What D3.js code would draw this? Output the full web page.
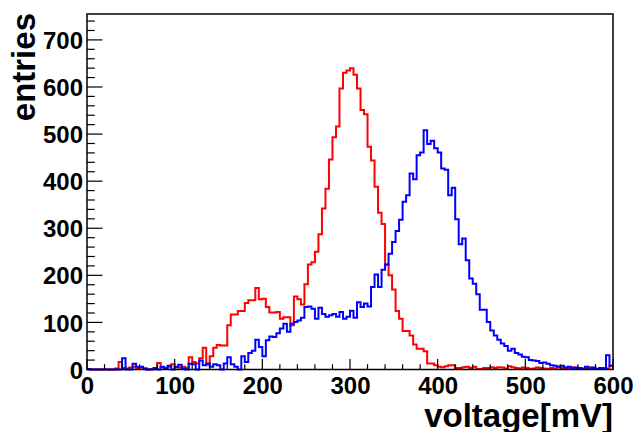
<!DOCTYPE html>
<html><head><meta charset="utf-8">
<script src="https://cdn.jsdelivr.net/npm/d3@7"></script>
<style>body{margin:0;background:#fff}svg{display:block}</style>
</head><body><svg id="c" width="634" height="432"></svg>
<script>
// ---- data ----
const xMin = 0, xMax = 600, binWidth = 4;
const redCounts = [
  0,0,0,0,0,0,0,0,2,16,
  3,2,4,6,3,5,2,0,1,3,
  14,5,3,6,11,6,4,6,3,26,
  16,13,24,46,11,28,46,52,51,51,
  94,117,117,124,124,141,147,147,173,149,
  150,133,121,121,122,108,111,111,94,155,
  149,138,181,223,228,250,287,342,384,446,
  493,516,597,630,635,640,626,597,551,542,
  473,444,388,333,309,223,200,170,124,108,
  82,82,72,53,44,44,39,13,13,9,
  6,5,7,9,9,3,3,5,6,3,
  6,1,1,3,3,5,3,5,4,2,
  7,5,3,2,4,3,1,2,4,3,
  2,1,3,2,5,3,1,2,4,1,
  2,1,2,4,3,1,2,3,2,8
];
const blueCounts = [
  1,0,0,0,0,0,0,0,0,0,
  24,0,0,12,6,6,2,0,0,3,
  0,6,2,8,0,5,10,2,0,12,
  11,0,19,9,13,6,11,9,0,13,
  26,11,6,0,28,16,35,40,63,48,
  28,62,70,69,77,87,97,80,97,101,
  104,110,133,134,129,108,131,118,112,115,
  118,112,122,108,112,125,110,143,133,140,
  134,175,202,175,212,223,246,271,294,318,
  356,370,416,404,455,461,508,479,486,470,
  461,427,424,370,386,319,266,278,232,193,
  182,160,127,127,101,83,72,63,55,50,
  40,44,35,32,27,26,20,19,18,14,
  15,12,9,8,6,8,4,6,3,4,
  3,2,6,2,4,1,3,2,30,8
];
const yMaxValue = 755;
const xTickValues = [0,100,200,300,400,500,600];
const yTickValues = [0,100,200,300,400,500,600,700];
const xTitle = "voltage[mV]";
const yTitle = "entries";

// ---- layout ----
const L = 87, R = 613, T = 14, B = 369.5;
const font = "'Liberation Sans', Arial, Helvetica, sans-serif";
const svg = d3.select("#c");
const x = d3.scaleLinear().domain([xMin, xMax]).range([L, R]);
const y = d3.scaleLinear().domain([0, yMaxValue]).range([B, T]);

const clip = svg.append("defs").append("clipPath").attr("id","fr")
  .append("rect").attr("x", L).attr("y", T).attr("width", R-L).attr("height", B-T+2);

function stepPoints(counts){
  const pts = [[xMin, 0]];
  counts.forEach((c,i)=>pts.push([xMin + i*binWidth, c]));
  pts.push([xMin + counts.length*binWidth, counts[counts.length-1]]);
  pts.push([xMin + counts.length*binWidth, 0]);
  return pts;
}
const line = d3.line().x(d=>x(d[0])).y(d=>y(d[1])).curve(d3.curveStepAfter);

const g = svg.append("g").attr("clip-path","url(#fr)");
g.append("path").attr("d", line(stepPoints(redCounts)))
  .attr("fill","none").attr("stroke","#ff0000").attr("stroke-width",2);
g.append("path").attr("d", line(stepPoints(blueCounts)))
  .attr("fill","none").attr("stroke","#0000ff").attr("stroke-width",2);

// frame
svg.append("rect").attr("x",L).attr("y",T).attr("width",R-L).attr("height",B-T)
  .attr("fill","none").attr("stroke","#000").attr("stroke-width",1.5);

// x axis ticks (inside, pointing up)
const xMinor = d3.range(xMin, xMax+0.1, 20);
const xAx = d3.axisBottom(x).tickValues(xTickValues).tickSize(0).tickFormat(d3.format("d"));
const xg = svg.append("g").attr("transform",`translate(0,${B})`).call(xAx);
xg.select(".domain").remove();
xg.selectAll("text").attr("font-family",font).attr("font-weight","bold").attr("font-size",24)
  .attr("fill","#000").attr("dy",null).attr("y",24.5);
svg.append("g").selectAll("line").data(xMinor).join("line")
  .attr("x1",d=>x(d)).attr("x2",d=>x(d)).attr("y1",B)
  .attr("y2",d=>B-(d%100===0?10.5:5.3)).attr("stroke","#000").attr("stroke-width",1.2);

// y axis ticks (inside, pointing right)
const yMinor = d3.range(0, yMaxValue, 20);
const yAx = d3.axisLeft(y).tickValues(yTickValues).tickSize(0).tickFormat(d3.format("d"));
const yg = svg.append("g").attr("transform",`translate(${L},0)`).call(yAx);
yg.select(".domain").remove();
yg.selectAll("text").attr("font-family",font).attr("font-weight","bold").attr("font-size",24)
  .attr("fill","#000").attr("x",-4).attr("dy","0.36em");
svg.append("g").selectAll("line").data(yMinor).join("line")
  .attr("y1",d=>y(d)).attr("y2",d=>y(d)).attr("x1",L)
  .attr("x2",d=>L+(d%100===0?15.5:7.8)).attr("stroke","#000").attr("stroke-width",1.2);

// titles
svg.append("text").attr("x",R).attr("y",427).attr("text-anchor","end")
  .attr("font-family",font).attr("font-weight","bold").attr("font-size",33).text(xTitle);
svg.append("text").attr("transform","translate(35,13) rotate(-90)").attr("text-anchor","end")
  .attr("font-family",font).attr("font-weight","bold").attr("font-size",33).text(yTitle);
</script></body></html>
